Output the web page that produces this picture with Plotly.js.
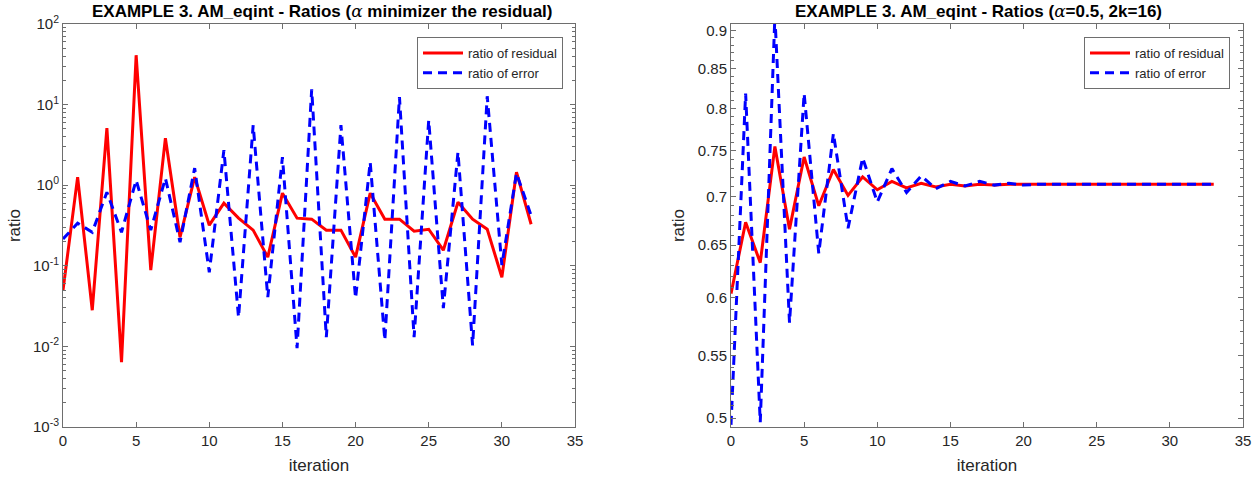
<!DOCTYPE html>
<html>
<head>
<meta charset="utf-8">
<script src="https://cdn.plot.ly/plotly-3.0.1.min.js"></script>
<style>html,body{margin:0;padding:0;background:#fff;}#chart{width:1259px;height:483px;}</style>
</head>
<body>
<div id="chart"></div>
<script>
// ---- Data ----
var iterLeft = [];
for (var i = 0; i <= 32; i++) iterLeft.push(i);
var residualLeft = [0.0498,1.26,0.0281,5.10,0.00637,41.0,0.0882,3.83,0.226,1.26,0.319,0.598,0.390,0.277,0.128,0.796,0.390,0.379,0.277,0.277,0.128,0.796,0.379,0.379,0.269,0.284,0.156,0.615,0.379,0.284,0.0722,1.45,0.328];
var errorLeft = [0.215,0.338,0.261,0.819,0.261,1.15,0.277,1.22,0.196,1.63,0.0833,2.72,0.0230,5.55,0.0408,2.23,0.0095,15.5,0.0130,5.55,0.0396,1.93,0.0119,12.4,0.0130,6.40,0.0298,2.57,0.0103,12.7,0.102,1.41,0.42];

var iterRight = [];
for (var j = 0; j <= 33; j++) iterRight.push(j);
var residualRight = [0.604,0.673,0.633,0.755,0.666,0.743,0.690,0.729,0.701,0.721,0.707,0.716,0.709,0.714,0.710,0.713,0.711,0.713,0.712,0.713,0.713,0.713,0.713,0.713,0.713,0.713,0.713,0.713,0.713,0.713,0.713,0.713,0.713,0.713];
var errorRight = [0.495,0.818,0.497,0.92,0.578,0.818,0.642,0.770,0.667,0.742,0.694,0.730,0.704,0.722,0.708,0.716,0.711,0.716,0.712,0.714,0.712,0.713,0.713,0.713,0.713,0.713,0.713,0.713,0.713,0.713,0.713,0.713,0.713,0.713];

var seriesNames = ['ratio of residual', 'ratio of error'];
var titleLeft = 'EXAMPLE 3. AM_eqint - Ratios (<span style="font-family:DejaVu Serif;font-weight:normal;font-style:italic">α</span> minimizer the residual)';
var titleRight = 'EXAMPLE 3. AM_eqint - Ratios (<span style="font-family:DejaVu Serif;font-weight:normal;font-style:italic">α</span>=0.5, 2k=16)';
var xTickVals = [0,5,10,15,20,25,30,35];
var yTickValsLeft = [0.001,0.01,0.1,1,10,100];
var yTickTextLeft = ['10<sup>-3</sup>','10<sup>-2</sup>','10<sup>-1</sup>','10<sup>0</sup>','10<sup>1</sup>','10<sup>2</sup>'];
var yTickValsRight = [0.5,0.55,0.6,0.65,0.7,0.75,0.8,0.85,0.9];

// ---- Styling ----
var FONT = 'Liberation Sans, Arial, sans-serif';
var AX = '#262626';
var LINE = '#6e6e6e';
var red = '#ff0000', blue = '#0000ff';

// minor tick positions
var minorLeft = [];
for (var e = -3; e < 2; e++) for (var m = 2; m <= 9; m++) minorLeft.push(m * Math.pow(10, e));
var minorRight = [];
for (var k = 49; k <= 91; k++) minorRight.push(k / 100);

var traces = [
  {x: iterLeft, y: residualLeft, xaxis: 'x', yaxis: 'y', mode: 'lines', name: seriesNames[0],
   line: {color: red, width: 3}, legend: 'legend'},
  {x: iterLeft, y: errorLeft, xaxis: 'x', yaxis: 'y', mode: 'lines', name: seriesNames[1],
   line: {color: blue, width: 3, dash: '9px,6px'}, legend: 'legend'},
  {x: iterRight, y: residualRight, xaxis: 'x2', yaxis: 'y2', mode: 'lines', name: seriesNames[0],
   line: {color: red, width: 3}, legend: 'legend2'},
  {x: iterRight, y: errorRight, xaxis: 'x2', yaxis: 'y2', mode: 'lines', name: seriesNames[1],
   line: {color: blue, width: 3, dash: '9px,6px'}, legend: 'legend2'}
];

function xAxis(domain, anchor) {
  return {
    domain: domain, anchor: anchor, range: [0, 35], tickvals: xTickVals,
    ticks: 'inside', ticklen: 5, tickcolor: LINE, mirror: 'ticks', showline: true,
    linecolor: LINE, linewidth: 1, showgrid: false, zeroline: false,
    tickfont: {family: FONT, size: 15, color: AX},
    title: {text: 'iteration', font: {family: FONT, size: 17, color: AX}, standoff: 11}
  };
}

var layout = {
  width: 1259, height: 483,
  margin: {l: 0, r: 0, t: 0, b: 0},
  paper_bgcolor: '#ffffff', plot_bgcolor: '#ffffff',
  font: {family: FONT, color: AX},
  showlegend: true,
  xaxis: xAxis([63/1259, 575/1259], 'y'),
  xaxis2: xAxis([731/1259, 1243/1259], 'y2'),
  yaxis: {
    domain: [1 - 427/483, 1 - 24/483], anchor: 'x', type: 'log', range: [-3, 2],
    tickvals: yTickValsLeft, ticktext: yTickTextLeft,
    ticks: 'inside', ticklen: 5, tickcolor: LINE, mirror: 'ticks', showline: true,
    linecolor: LINE, linewidth: 1, showgrid: false, zeroline: false,
    minor: {tickvals: minorLeft, ticks: 'inside', ticklen: 3, tickcolor: LINE, showgrid: false},
    tickfont: {family: FONT, size: 15, color: AX},
    title: {text: 'ratio', font: {family: FONT, size: 17, color: AX}, standoff: 8}
  },
  yaxis2: {
    domain: [1 - 427/483, 1 - 24/483], anchor: 'x2', type: 'log',
    range: [Math.log10(0.4934), Math.log10(0.909)],
    tickvals: yTickValsRight, ticktext: yTickValsRight.map(String),
    ticks: 'inside', ticklen: 5, tickcolor: LINE, mirror: 'ticks', showline: true,
    linecolor: LINE, linewidth: 1, showgrid: false, zeroline: false,
    minor: {tickvals: minorRight, ticks: 'inside', ticklen: 3, tickcolor: LINE, showgrid: false},
    tickfont: {family: FONT, size: 15, color: AX},
    title: {text: 'ratio', font: {family: FONT, size: 17, color: AX}, standoff: 8}
  },
  legend: {
    x: 563/1259, xanchor: 'right', y: 1 - 37/483, yanchor: 'top',
    bgcolor: '#ffffff', bordercolor: '#6e6e6e', borderwidth: 1,
    font: {family: FONT, size: 13, color: AX}, tracegroupgap: 0, itemwidth: 40
  },
  legend2: {
    x: 1230/1259, xanchor: 'right', y: 1 - 37/483, yanchor: 'top',
    bgcolor: '#ffffff', bordercolor: '#6e6e6e', borderwidth: 1,
    font: {family: FONT, size: 13, color: AX}, tracegroupgap: 0, itemwidth: 40
  },
  annotations: [
    {text: '<b>' + titleLeft + '</b>', xref: 'paper', yref: 'paper', x: 322/1259, xanchor: 'center',
     y: 1, yanchor: 'top', yshift: 1, showarrow: false, font: {family: FONT, size: 17, color: '#000'}},
    {text: '<b>' + titleRight + '</b>', xref: 'paper', yref: 'paper', x: 978/1259, xanchor: 'center',
     y: 1, yanchor: 'top', yshift: 1, showarrow: false, font: {family: FONT, size: 17, color: '#000'}}
  ]
};

Plotly.newPlot('chart', traces, layout, {staticPlot: true, displayModeBar: false});
</script>
</body>
</html>
